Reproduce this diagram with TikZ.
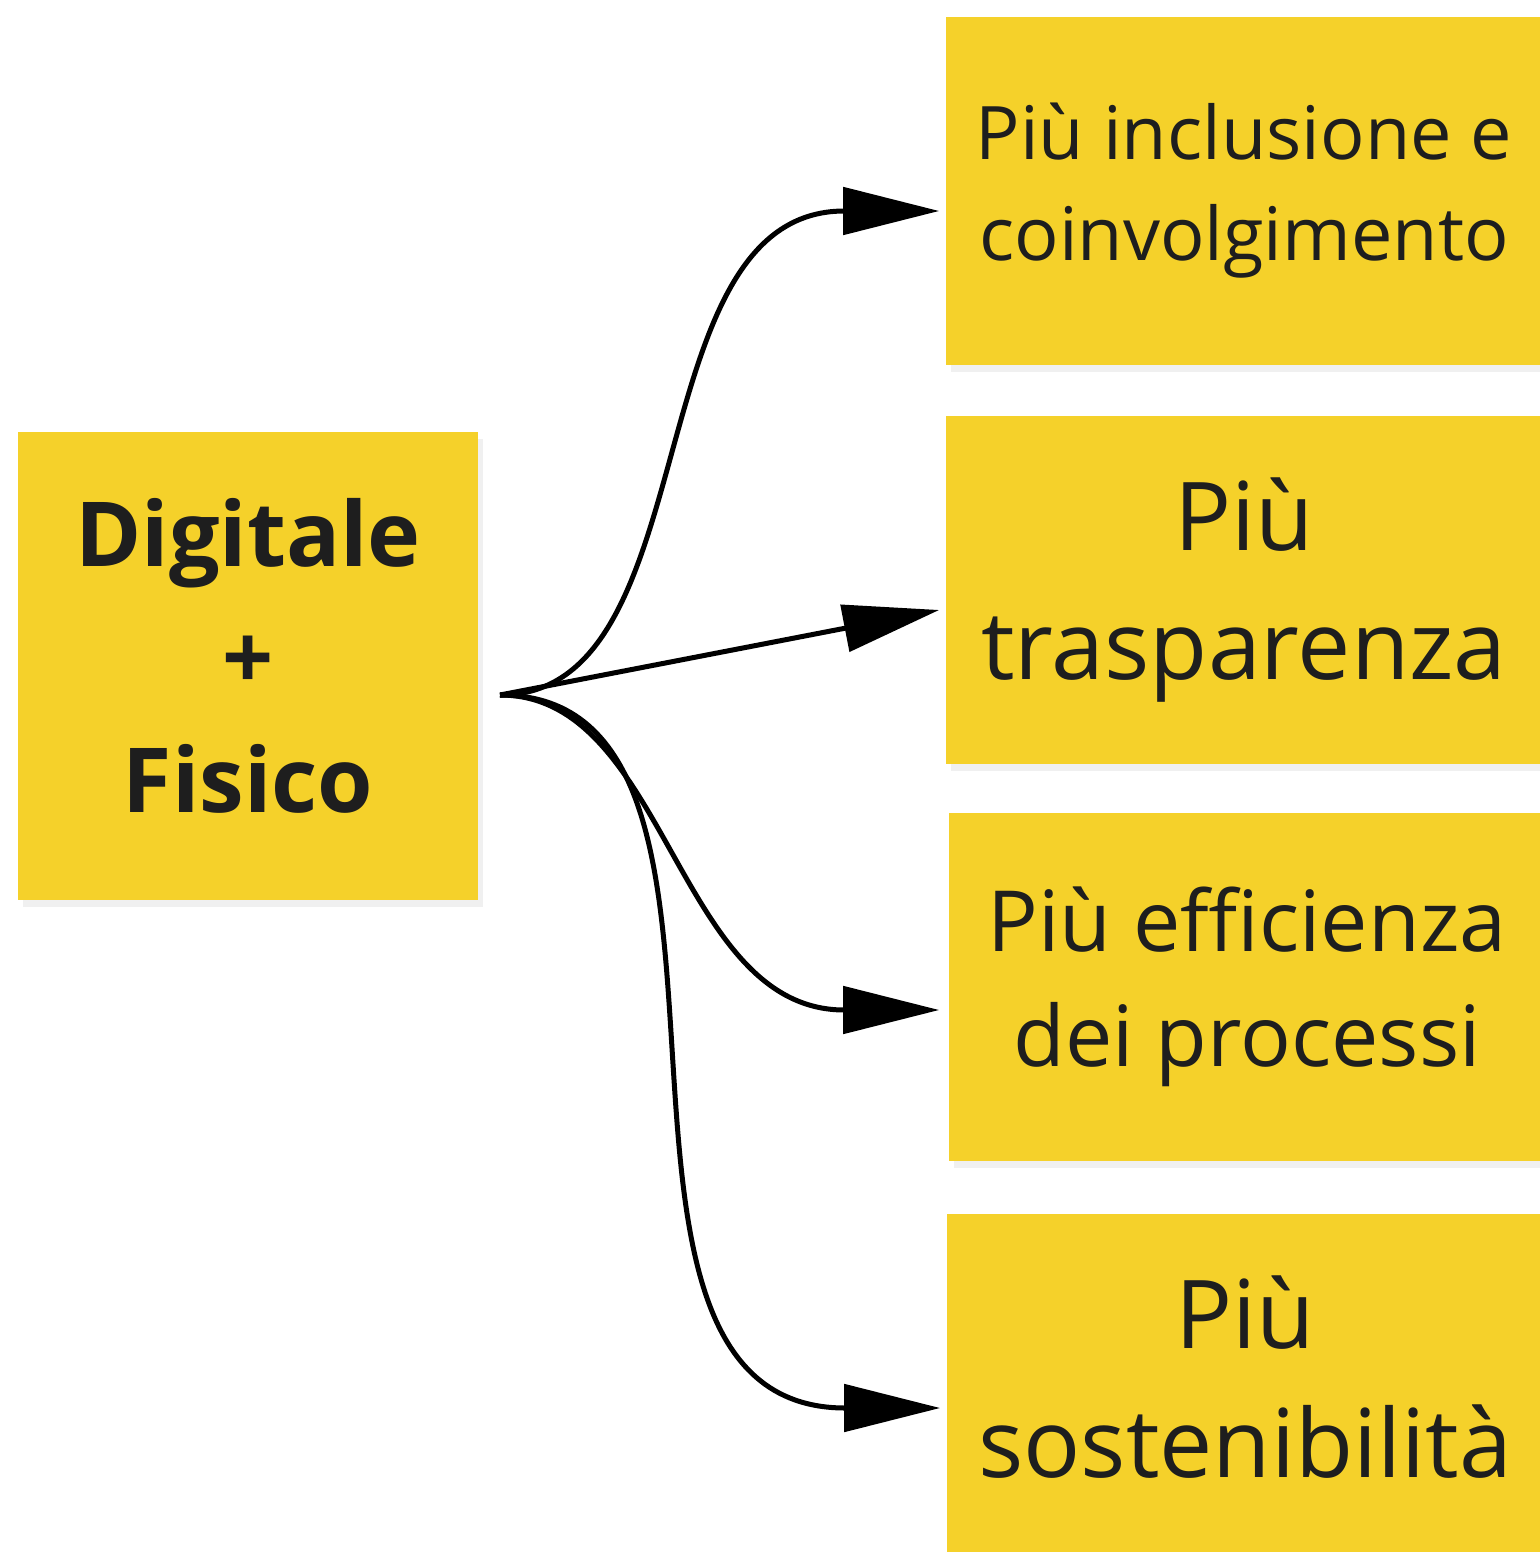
\documentclass[tikz,border=0pt]{standalone}
\usepackage{fontspec}
\setmainfont{Open Sans}
\usetikzlibrary{arrows.meta,calc,shadows}
\definecolor{postityellow}{HTML}{F5D12A}
\definecolor{inkgrey}{HTML}{1E1E1E}

\tikzset{
  postit/.style={fill=postityellow, text=inkgrey, align=center, inner sep=0pt,
    drop shadow={opacity=0.12, shadow xshift=0.5mm, shadow yshift=-0.7mm}},
  sidenote/.style={postit, minimum width=5.96cm, minimum height=3.48cm},
  bigtext/.style={font=\fontsize{27}{36.7}\selectfont},
  midtext/.style={font=\fontsize{24}{32.6}\selectfont},
  smalltext/.style={font=\fontsize{21}{28.7}\selectfont},
  link/.style={line width=0.05cm, -{Triangle[length=0.96cm,width=0.47cm]}}
}

\begin{document}
\begin{tikzpicture}[x=0.01cm, y=-0.01cm]
\useasboundingbox (0,0) rectangle (1540,1552);
\clip (0,0) rectangle (1540,1552);

% source note
\node[postit, minimum width=4.6cm, minimum height=4.67cm,
  font=\bfseries\fontsize{25.5}{35}\selectfont] (src) at (248,666) {Digitale\\+\\Fisico\vphantom{g}};

% outcome notes
\node[sidenote, smalltext] (incl) at (1244,191) {Più inclusione e\\coinvolgimento};
\node[sidenote, bigtext] (trasp) at (1244,590) {Più\\trasparenza};
\node[sidenote, midtext] (effic) at (1247,987) {Più efficienza\\dei processi};
\node[sidenote, bigtext] (sost) at (1245,1388) {Più\\sostenibilità\vphantom{p}};

\coordinate (hub) at (500,695);

\draw[link] (hub) .. controls +(210,0) and +(-306,0) .. ($(incl.west)+(-6,20)$);
\draw[link] (hub) -- ($(trasp.west)+(-6,20)$);
\draw[link] (hub) .. controls +(167,0) and +(-263,0) .. ($(effic.west)+(-9,23)$);
\draw[link] (hub) .. controls +(300,0) and +(-396,0) .. ($(sost.west)+(-6,20)$);
\end{tikzpicture}
\end{document}
